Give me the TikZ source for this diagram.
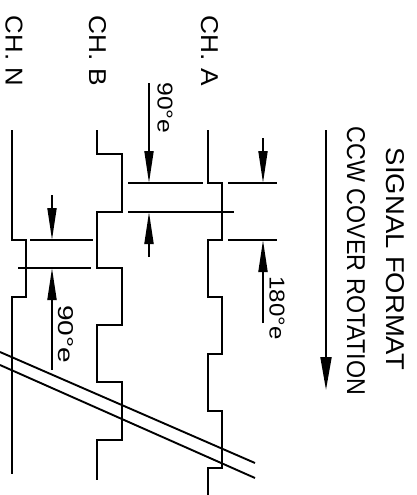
\documentclass[tikz,border=0pt]{standalone}
\usepackage{fontspec}
\usepackage{graphicx}
\setmainfont{Liberation Sans}
\usetikzlibrary{arrows.meta}
\tikzset{
  wave/.style={line width=1.9pt, line join=miter},
  dim/.style={line width=1.9pt},
  dimarrow/.style={line width=1.9pt, -{Triangle[length=32pt,width=9pt]}},
  bigarrow/.style={line width=1.9pt, -{Triangle[length=33pt,width=11pt]}},
  lbl/.style={rotate=-90, inner sep=0pt, outer sep=0pt},
  brk/.style={line width=1.9pt},
}
\newcommand{\fitbox}[3]{\resizebox{#1pt}{#2pt}{#3}}
\begin{document}
\begin{tikzpicture}[x=1pt,y=-1pt]
\useasboundingbox (0,0) rectangle (416,495);
% labels
\node[lbl] (chn) at (14,51) {\fitbox{70}{17}{CH. N}};
\node[lbl] (chb) at (98,51) {\fitbox{70}{17}{CH. B}};
\node[lbl] (cha) at (210,51) {\fitbox{70}{17}{CH. A}};
\node[lbl] (sig) at (395,259) {\fitbox{222}{18}{SIGNAL FORMAT}};
\node[lbl] (ccw) at (356,261) {\fitbox{268}{18}{CCW COVER ROTATION}};
\node[lbl] (t90a) at (165,108) {\fitbox{51}{15}{90°e}};
\node[lbl] (t180) at (277,308) {\fitbox{63}{15}{180°e}};
\node[lbl] (t90b) at (66,334) {\fitbox{58}{15}{90°e}};
% waveforms
\draw[wave] (12,130) -- (12,240) -- (26,240) -- (26,297) -- (12,297) -- (12,474);
\draw[wave] (97,130) -- (97,154) -- (122,154) -- (122,212) -- (97,212) -- (97,268)
  -- (122,268) -- (122,325) -- (97,325) -- (97,382) -- (122,382) -- (122,440)
  -- (97,440) -- (97,480);
\draw[wave] (208,130) -- (208,183) -- (222,183) -- (222,240) -- (208,240) -- (208,297)
  -- (222,297) -- (222,354) -- (208,354) -- (208,411) -- (222,411) -- (222,468)
  -- (208,468) -- (208,495);
% extension lines
\draw[dim] (128,183) -- (203,183);
\draw[dim] (228,183) -- (277,183);
\draw[dim] (128,212) -- (234,212);
\draw[dim] (228,240) -- (277,240);
\draw[dim] (30,240) -- (93,240);
\draw[dim] (18,268) -- (91,268);
% arrows
\coordinate (a1s) at (149,83);  \coordinate (a1e) at (149,183);
\coordinate (a2s) at (149,257); \coordinate (a2e) at (149,212);
\coordinate (a3s) at (263,138); \coordinate (a3e) at (263,183);
\coordinate (a4s) at (263,323); \coordinate (a4e) at (263,240);
\coordinate (a5s) at (52,195);  \coordinate (a5e) at (52,240);
\coordinate (a6s) at (52,370);  \coordinate (a6e) at (52,268);
\coordinate (a7s) at (326,130); \coordinate (a7e) at (326,390);
\draw[dimarrow] (a1s) -- (a1e);
\draw[dimarrow] (a2s) -- (a2e);
\draw[dimarrow] (a3s) -- (a3e);
\draw[dimarrow] (a4s) -- (a4e);
\draw[dimarrow] (a5s) -- (a5e);
\draw[dimarrow] (a6s) -- (a6e);
\draw[bigarrow] (a7s) -- (a7e);
% break lines
\draw[brk] (0,352) -- (255,463);
\draw[brk] (0,365) -- (255,478);
\end{tikzpicture}
\end{document}
